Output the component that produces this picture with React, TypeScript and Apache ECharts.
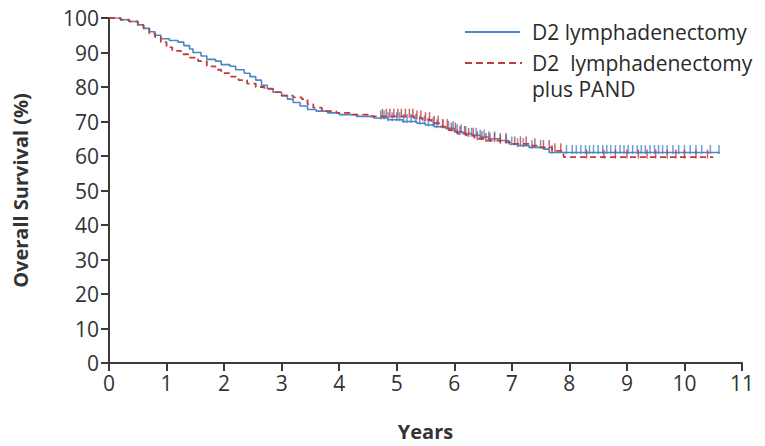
import React, { useEffect, useRef } from "react";
import * as echarts from "echarts";

// Kaplan-Meier step points [years, survival %]
const d2Curve: [number, number][] = [
  [0, 100], [0.2, 99.5], [0.35, 99], [0.5, 98], [0.6, 97], [0.7, 96], [0.8, 95], [0.9, 94],
  [1.05, 93.5], [1.2, 93], [1.3, 92], [1.4, 91], [1.46, 90], [1.6, 89], [1.7, 88], [1.85, 87.5],
  [1.95, 86.5], [2.1, 86], [2.2, 85], [2.35, 84], [2.45, 83], [2.55, 82], [2.65, 80.5], [2.75, 79.5],
  [2.85, 78.5], [3.0, 77.5], [3.1, 76.5], [3.2, 75.5], [3.32, 74.5], [3.45, 73.5],
  [3.6, 73], [3.8, 72.5], [4.0, 72], [4.3, 71.5], [4.6, 71], [4.85, 70.5], [5.1, 70], [5.35, 69.5],
  [5.5, 69], [5.65, 68.5], [5.85, 68], [6.0, 67], [6.15, 66.5], [6.3, 66], [6.45, 65.5], [6.6, 65],
  [6.8, 64.5], [6.95, 63.5], [7.1, 63], [7.3, 62.5], [7.55, 62], [7.65, 61], [10.62, 61],
];

const pandCurve: [number, number][] = [
  [0, 100], [0.2, 99.5], [0.35, 99], [0.5, 98], [0.6, 97], [0.7, 95.5], [0.8, 94.5], [0.9, 93],
  [1.0, 91.5], [1.1, 90.5], [1.25, 89.5], [1.4, 88.5], [1.55, 87.5], [1.7, 86], [1.85, 85],
  [1.95, 84], [2.1, 83], [2.25, 82], [2.4, 81], [2.55, 80], [2.7, 79.5], [2.85, 78.5], [3.0, 77.5],
  [3.2, 77], [3.35, 76.5], [3.45, 75], [3.55, 74], [3.7, 73], [3.95, 72.5], [4.2, 72], [4.5, 71.5],
  [5.3, 71], [5.45, 70.5], [5.6, 69.5], [5.75, 68.5], [5.9, 67.5], [6.05, 66.5], [6.2, 66],
  [6.35, 65], [6.55, 64.5], [6.8, 64], [7.0, 63.5], [7.3, 63], [7.5, 62.5], [7.7, 61.5],
  [7.9, 59.7], [10.5, 59.7],
];

// Censoring times (years)
const d2Censored: number[] = [
  4.72, 4.78, 4.85, 4.92, 5.0, 5.05, 5.12, 5.18, 5.25, 5.33, 5.4, 5.48, 5.55, 5.63, 5.7, 5.8, 5.9,
  5.98, 6.05, 6.12, 6.2, 6.3, 6.38, 6.45, 6.52, 6.6, 6.7, 6.8, 6.9, 7.0, 7.1, 7.2, 7.35, 7.5, 7.7,
  7.95, 8.05, 8.12, 8.2, 8.28, 8.35, 8.42, 8.5, 8.58, 8.65, 8.72, 8.8, 8.88, 8.95, 9.02, 9.1, 9.18,
  9.25, 9.32, 9.4, 9.48, 9.55, 9.62, 9.7, 9.8, 9.9, 10.0, 10.1, 10.2, 10.3, 10.45, 10.6,
];
const pandCensored: number[] = [
  4.75, 4.82, 4.88, 4.95, 5.02, 5.08, 5.15, 5.22, 5.28, 5.35, 5.42, 5.5, 5.57, 5.65, 5.72, 5.8,
  5.88, 5.95, 6.02, 6.1, 6.18, 6.25, 6.33, 6.4, 6.48, 6.55, 6.62, 6.7, 6.8, 6.9, 7.05, 7.15,
  7.25, 7.4, 7.55, 7.65, 7.75, 7.85, 8.3, 8.6, 8.8, 9.0, 9.2, 9.35, 9.5, 9.7, 9.85, 10.0, 10.2,
  10.4,
];

const xTicks = [0, 1, 2, 3, 4, 5, 6, 7, 8, 9, 10, 11];
const seriesNames = ["D2 lymphadenectomy", "D2  lymphadenectomy", "plus PAND"];

const BLUE = "#4a87c9";
const RED = "#c23b3f";
const FONT = "'Open Sans', sans-serif";

function stepValue(curve: [number, number][], t: number): number {
  let v = curve[0][1];
  for (const [x, y] of curve) {
    if (x <= t) v = y;
    else break;
  }
  return v;
}

export default function App() {
  const ref = useRef<HTMLDivElement>(null);
  useEffect(() => {
    document.body.style.margin = "0";
    if (!ref.current) return;
    const chart = echarts.init(ref.current, null, { renderer: "svg" });
    const axisColor = "#3a3a3a";
    chart.setOption({
      animation: false,
      backgroundColor: "#ffffff",
      grid: { left: 109, right: 23, top: 18, bottom: 80 },
      xAxis: {
        type: "value",
        min: 0,
        max: 11,
        interval: 1,
        name: "Years",
        nameLocation: "middle",
        nameGap: 58,
        nameTextStyle: { fontFamily: FONT, fontWeight: "bold", fontSize: 20, color: "#333" },
        axisLine: { show: true, lineStyle: { color: axisColor, width: 2 } },
        axisTick: { show: true, length: 8, lineStyle: { color: axisColor, width: 2 } },
        axisLabel: {
          fontFamily: FONT, fontSize: 21, color: "#333", margin: 9,
          formatter: (v: number) => (xTicks.includes(v) ? String(v) : ""),
        },
        splitLine: { show: false },
      },
      yAxis: {
        type: "value",
        min: 0,
        max: 100,
        interval: 10,
        name: "Overall Survival (%)",
        nameLocation: "middle",
        nameGap: 79,
        nameTextStyle: { fontFamily: FONT, fontWeight: "bold", fontSize: 20, color: "#333" },
        axisLine: { show: true, lineStyle: { color: axisColor, width: 2 } },
        axisTick: { show: true, length: 8, lineStyle: { color: axisColor, width: 2 } },
        axisLabel: { fontFamily: FONT, fontSize: 21, color: "#333", margin: 10 },
        splitLine: { show: false },
      },
      series: [
        {
          name: seriesNames[0],
          type: "line",
          step: "end",
          showSymbol: false,
          data: d2Curve,
          lineStyle: { color: BLUE, width: 1.6 },
          z: 2,
        },
        {
          name: seriesNames[1],
          type: "line",
          step: "end",
          showSymbol: false,
          data: pandCurve,
          lineStyle: { color: RED, width: 1.8, type: [6, 4] },
          z: 3,
        },
        {
          type: "scatter",
          data: d2Censored.map((t) => [t, stepValue(d2Curve, t)]),
          symbol: "rect",
          symbolSize: [1.5, 9],
          symbolOffset: [0, -3],
          itemStyle: { color: BLUE },
          z: 2,
        },
        {
          type: "scatter",
          data: pandCensored.map((t) => [t, stepValue(pandCurve, t)]),
          symbol: "rect",
          symbolSize: [1.5, 9],
          symbolOffset: [0, -3],
          itemStyle: { color: RED },
          z: 3,
        },
      ],
      graphic: [
        { type: "line", shape: { x1: 465, y1: 32, x2: 520, y2: 32 }, style: { stroke: BLUE, lineWidth: 2 } },
        {
          type: "text", x: 532, y: 32,
          style: { text: seriesNames[0], fontFamily: FONT, fontSize: 21, fill: "#2a2a2a", verticalAlign: "middle" },
        },
        { type: "line", shape: { x1: 465, y1: 63, x2: 522, y2: 63 }, style: { stroke: RED, lineWidth: 2, lineDash: [7, 4] } },
        {
          type: "text", x: 532, y: 63,
          style: { text: seriesNames[1], fontFamily: FONT, fontSize: 21, fill: "#2a2a2a", verticalAlign: "middle" },
        },
        {
          type: "text", x: 532, y: 89,
          style: { text: seriesNames[2], fontFamily: FONT, fontSize: 21, fill: "#2a2a2a", verticalAlign: "middle" },
        },
      ],
    });
    return () => chart.dispose();
  }, []);
  return <div ref={ref} style={{ width: 765, height: 446 }} />;
}
